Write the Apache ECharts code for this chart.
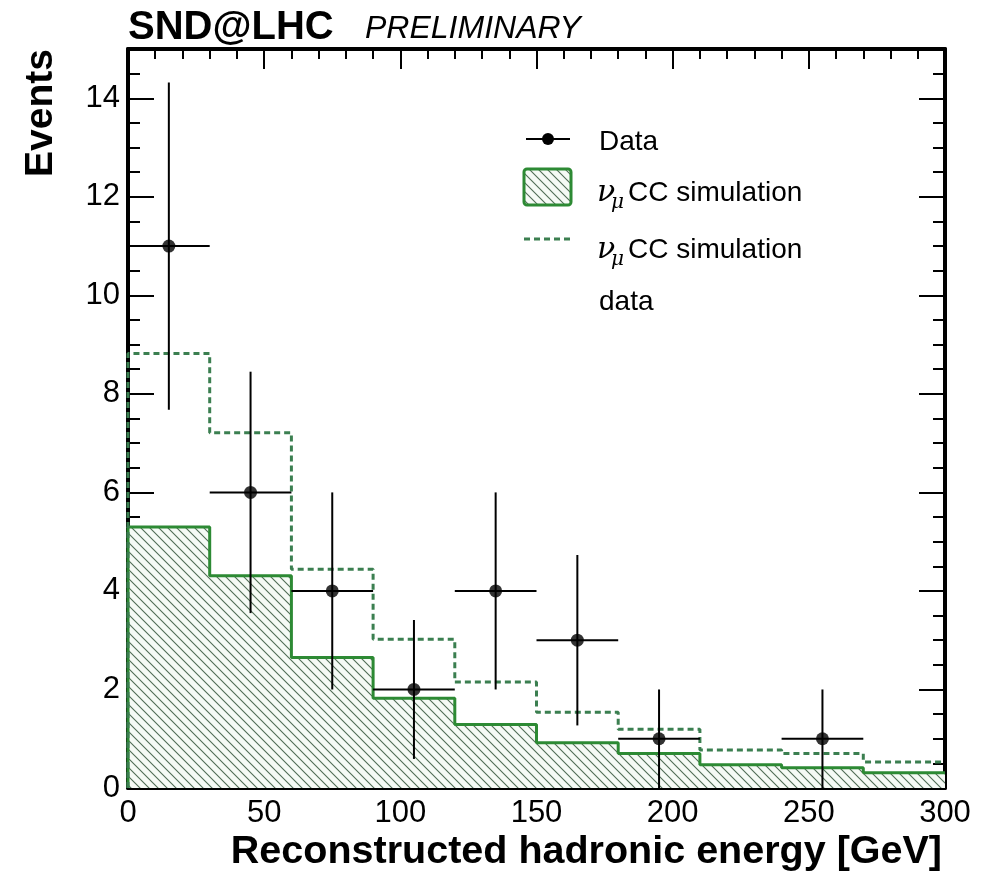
<!DOCTYPE html>
<html>
<head>
<meta charset="utf-8">
<script src="https://cdn.jsdelivr.net/npm/echarts@6/dist/echarts.min.js"></script>
<style>
html,body{margin:0;padding:0;background:#fff;}
#chart{width:992px;height:885px;}
</style>
</head>
<body>
<div id="chart"></div>
<script>
// ---- data ----
const binEdges = [0, 30, 60, 90, 120, 150, 180, 210, 240, 270, 300];
const simValues = [5.30, 4.31, 2.65, 1.82, 1.29, 0.92, 0.70, 0.47, 0.41, 0.31];
const simScaledValues = [8.82, 7.21, 4.44, 3.02, 2.15, 1.54, 1.19, 0.77, 0.70, 0.53];
const dataX = [15, 45, 75, 105, 135, 165, 195, 255];
const dataY = [11, 6, 4, 2, 4, 3, 1, 1];
const dataYLow = [7.68, 3.55, 2.0, 0.59, 2.0, 1.27, 0.0, 0.0];
const dataYHigh = [14.32, 8.45, 6.0, 3.41, 6.0, 4.73, 2.0, 2.0];
const dataXHalf = [15, 15, 15, 15, 15, 15, 15, 15];
const yLabelMax = 14;

const FONT = "'Liberation Sans', Arial, Helvetica, sans-serif";
const SOLID = '#2d8a34';
const DASHED = '#3b7f50';

function makeHatch(s, color, bg) {
  const c = document.createElement('canvas');
  c.width = s; c.height = s;
  const ctx = c.getContext('2d');
  ctx.fillStyle = bg; ctx.fillRect(0, 0, s, s);
  ctx.strokeStyle = color; ctx.lineWidth = 1.1;
  ctx.beginPath();
  for (let k = -1; k <= 1; k++) {
    ctx.moveTo(-1, k * s - 1);
    ctx.lineTo(s + 1, s + k * s + 1);
  }
  ctx.stroke();
  return c;
}
const hatch = makeHatch(9, '#506d55', '#f5faf5');

function stepData(vals) {
  const d = [[binEdges[0], 0]];
  for (let i = 0; i < vals.length; i++) d.push([binEdges[i], vals[i]]);
  d.push([binEdges[binEdges.length - 1], vals[vals.length - 1]]);
  return d;
}

const errData = dataX.map((x, i) => [x, dataY[i], x - dataXHalf[i], x + dataXHalf[i], dataYLow[i], dataYHigh[i]]);

const chart = echarts.init(document.getElementById('chart'), null, {renderer: 'canvas'});

const xBase = {
  type: 'value', min: 0, max: 300, interval: 50,
  splitLine: {show: false},
  axisLine: {show: true, onZero: false, lineStyle: {color: '#000', width: 4}},
  axisTick: {show: true, inside: true, length: 20, lineStyle: {color: '#000', width: 2}},
  minorTick: {show: true, splitNumber: 5, length: 10, lineStyle: {color: '#000', width: 2}},
};
function yMajor(pos) {
  return {
    type: 'value', min: 0, max: 15, interval: 2, position: pos,
    splitLine: {show: false},
    axisLine: {show: true, onZero: false, lineStyle: {color: '#000', width: 4}},
    axisLabel: {show: false},
    axisTick: {show: true, inside: true, length: 26, lineStyle: {color: '#000', width: 2}}
  };
}
function yMinor(pos) {
  return {
    type: 'value', min: 0, max: 15, interval: 0.5, position: pos,
    splitLine: {show: false},
    axisLine: {show: false, onZero: false},
    axisLabel: {show: false},
    axisTick: {show: true, inside: true, length: 12, lineStyle: {color: '#000', width: 2}}
  };
}

const option = {
  animation: false,
  backgroundColor: '#fff',
  grid: {left: 128, right: 47, top: 49, bottom: 97, containLabel: false},
  xAxis: [
    Object.assign({}, xBase, {
      position: 'bottom',
      axisLabel: {show: true, margin: 10, color: '#000', fontSize: 31, fontFamily: FONT}
    }),
    Object.assign({}, xBase, {position: 'top', axisLabel: {show: false}})
  ],
  yAxis: [
    yMajor('left'),
    yMinor('left'),
    yMajor('right'),
    yMinor('right'),
    {
      type: 'value', min: 0, max: 15, interval: 2, position: 'left',
      splitLine: {show: false}, axisLine: {show: false, onZero: false}, axisTick: {show: false},
      axisLabel: {show: true, margin: 8, color: '#000', fontSize: 31, fontFamily: FONT,
        formatter: function (v) { return v > yLabelMax ? '' : String(v); }}
    }
  ],
  series: [
    {
      name: 'nu_mu CC simulation', type: 'line', step: 'end',
      data: stepData(simValues), symbol: 'none',
      lineStyle: {color: SOLID, width: 3},
      areaStyle: {color: {image: hatch, repeat: 'repeat'}, opacity: 1},
      z: 2
    },
    {
      name: 'nu_mu CC simulation data', type: 'line', step: 'end',
      data: stepData(simScaledValues), symbol: 'none',
      lineStyle: {color: DASHED, width: 3, type: [6, 4]},
      z: 3
    },
    {
      name: 'Data errors', type: 'custom',
      data: errData,
      renderItem: function (params, api) {
        const y = api.value(1);
        const p1 = api.coord([api.value(2), y]);
        const p2 = api.coord([api.value(3), y]);
        const p3 = api.coord([api.value(0), api.value(4)]);
        const p4 = api.coord([api.value(0), api.value(5)]);
        const st = {stroke: '#000', lineWidth: 2};
        return {
          type: 'group',
          children: [
            {type: 'line', shape: {x1: p1[0], y1: p1[1], x2: p2[0], y2: p2[1]}, style: st},
            {type: 'line', shape: {x1: p3[0], y1: p3[1], x2: p4[0], y2: p4[1]}, style: st}
          ]
        };
      },
      z: 4
    },
    {
      name: 'Data', type: 'scatter',
      data: dataX.map((x, i) => [x, dataY[i]]),
      symbol: 'circle', symbolSize: 13,
      itemStyle: {color: '#000'},
      z: 5
    }
  ],
  graphic: [
    {type: 'text', left: 128, top: 8, style: {text: 'SND@LHC', font: "bold 40px " + FONT, fill: '#000'}},
    {type: 'text', left: 365, top: 13, style: {text: 'PRELIMINARY', font: "italic 32px " + FONT, fill: '#000'}},
    {type: 'text', x: 41, y: 113, rotation: Math.PI / 2,
      style: {text: 'Events', font: "bold 39px " + FONT, fill: '#000', align: 'center', verticalAlign: 'middle'}},
    {type: 'text', x: 942, y: 852,
      style: {text: 'Reconstructed hadronic energy [GeV]', font: "bold 39.5px " + FONT, fill: '#000', align: 'right', verticalAlign: 'middle'}},
    // legend
    {type: 'line', shape: {x1: 526, y1: 139, x2: 570, y2: 139}, style: {stroke: '#000', lineWidth: 2}},
    {type: 'circle', shape: {cx: 548, cy: 139, r: 6}, style: {fill: '#000'}},
    {type: 'text', x: 599, y: 142, style: {text: 'Data', font: "28px " + FONT, fill: '#000', verticalAlign: 'middle'}},
    {type: 'rect', shape: {x: 524, y: 169, width: 47, height: 36, r: 3},
      style: {fill: {image: hatch, repeat: 'repeat'}, stroke: SOLID, lineWidth: 3}},
    {type: 'text', x: 597, y: 193, style: {text: 'ν', font: "italic 30px 'DejaVu Serif', serif", fill: '#000', verticalAlign: 'middle'}},
    {type: 'text', x: 611, y: 203, style: {text: 'μ', font: "italic 20px 'DejaVu Serif', serif", fill: '#000', verticalAlign: 'middle'}},
    {type: 'text', x: 628, y: 193, style: {text: 'CC simulation', font: "28px " + FONT, fill: '#000', verticalAlign: 'middle'}},
    {type: 'line', shape: {x1: 524, y1: 239, x2: 571, y2: 239}, style: {stroke: DASHED, lineWidth: 3, lineDash: [6, 4]}},
    {type: 'text', x: 597, y: 250, style: {text: 'ν', font: "italic 30px 'DejaVu Serif', serif", fill: '#000', verticalAlign: 'middle'}},
    {type: 'text', x: 611, y: 260, style: {text: 'μ', font: "italic 20px 'DejaVu Serif', serif", fill: '#000', verticalAlign: 'middle'}},
    {type: 'text', x: 628, y: 250, style: {text: 'CC simulation', font: "28px " + FONT, fill: '#000', verticalAlign: 'middle'}},
    {type: 'text', x: 599, y: 302, style: {text: 'data', font: "28px " + FONT, fill: '#000', verticalAlign: 'middle'}}
  ]
};
chart.setOption(option);
</script>
</body>
</html>
